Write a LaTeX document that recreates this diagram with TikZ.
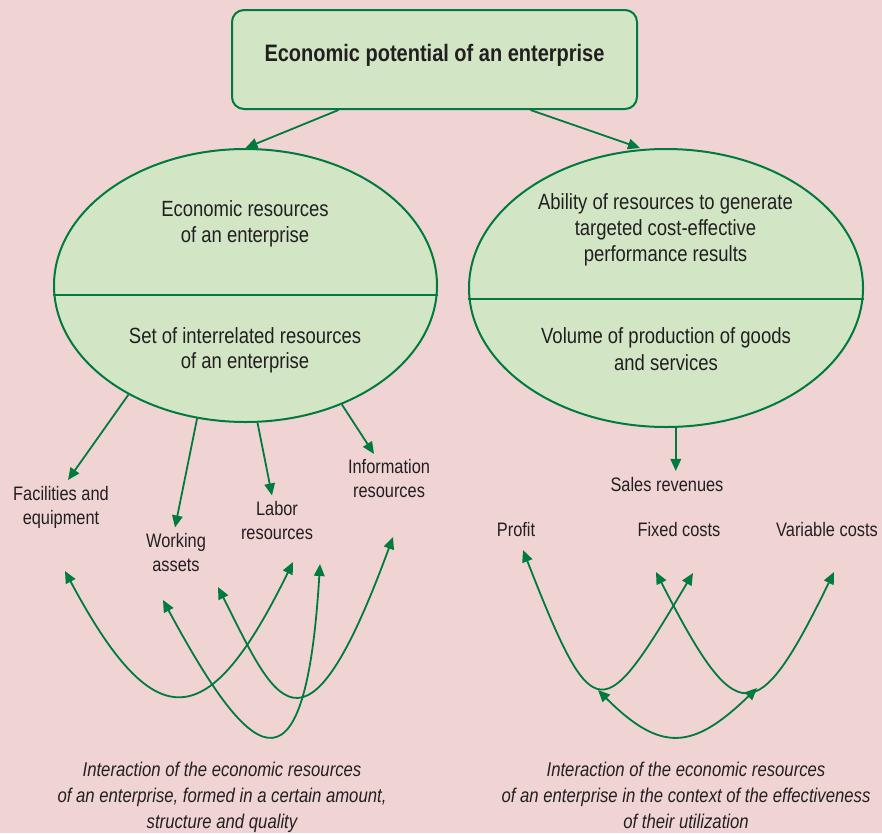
\documentclass[tikz,border=0pt]{standalone}
\usepackage{fontspec}
\setmainfont{Liberation Sans}[FakeStretch=0.84]
\usetikzlibrary{shapes,arrows.meta}
\definecolor{bgpink}{RGB}{240,212,212}
\definecolor{ovalgreen}{RGB}{210,230,197}
\definecolor{linegreen}{RGB}{0,122,61}
\definecolor{textgrey}{RGB}{35,31,32}

\begin{document}
\begin{tikzpicture}[x=1pt,y=-1pt,>={Triangle[length=12pt,width=10.5pt]},line width=1.8pt,draw=linegreen,text=textgrey]
    \tikzstyle{topbox}=[draw=linegreen,fill=ovalgreen,line width=2pt,rounded corners=12pt,minimum width=405pt,minimum height=99pt,font=\bfseries\fontsize{23.8}{28}\selectfont,text height=17pt,text depth=12.6pt]
    \tikzstyle{oval}=[ellipse,draw=linegreen,fill=ovalgreen,line width=2pt,inner sep=0pt]
    \tikzstyle{otext}=[align=center,font=\fontsize{22}{25.5}\selectfont,inner sep=0pt]
    \tikzstyle{leaf}=[align=center,font=\fontsize{19.5}{24}\selectfont,inner xsep=2pt,inner ysep=5pt]
    \tikzstyle{note}=[align=center,font=\itshape\fontsize{19.9}{26}\selectfont,inner sep=0pt]
    \fill[bgpink] (0,0) rectangle (882,833);
    \useasboundingbox (0,0) rectangle (882,833);
    % top box and the two ovals
    \node[topbox] (EP) at (434.5,59.5) {Economic potential of an enterprise};
    \node[oval,minimum width=383pt,minimum height=273pt] (EL) at (245.5,285.5) {};
    \node[oval,minimum width=394pt,minimum height=278pt] (ER) at (666,288) {};
    \draw[line width=2pt] ([yshift=-9.5pt]EL.west) -- ([yshift=-9.5pt]EL.east);
    \draw[line width=2pt] ([yshift=-11pt]ER.west) -- ([yshift=-11pt]ER.east);
    \node[otext] (EL1) at (245,224) {Economic resources\\of an enterprise};
    \node[otext] (EL2) at (245,350.5) {Set of interrelated resources\\of an enterprise};
    \node[otext,font=\fontsize{22}{26.2}\selectfont] (ER1) at (665.5,229.7) {Ability of resources to generate\\targeted cost-effective\\performance results};
    \node[otext,font=\fontsize{22}{26.7}\selectfont] (ER2) at (666,348.8) {Volume of production of goods\\and services};
    \draw[->] ([xshift=-96pt]EP.south) -- (EL.north);
    \draw[->] ([xshift=96pt]EP.south) -- ([xshift=-26pt]ER.north);
    % resources
    \node[leaf] (FE) at (61,507) {Facilities and\\equipment};
    \node[leaf] (WA) at (176,552.5) {Working\\assets};
    \node[leaf] (LR) at (277,520.5) {Labor\\resources};
    \node[leaf] (IR) at (389,479) {Information\\resources};
    \draw[->] (EL.223) -- ([xshift=7pt]FE.north);
    \draw[->] (EL.250) -- ([xshift=-1pt]WA.north);
    \draw[->] (EL.275) -- ([xshift=-5pt]LR.north);
    \draw[->] (EL.309) -- ([xshift=-15pt]IR.north);
    % results
    \node[leaf,anchor=base] (SR) at (667,491) {Sales revenues};
    \node[leaf,anchor=base] (PR) at (516,536) {Profit};
    \node[leaf,anchor=base] (FC) at (679,536) {Fixed costs};
    \node[leaf,anchor=base] (VC) at (827,536) {Variable costs};
    \draw[->] (ER.274) -- (ER.274 |- SR.north);
    % interaction loops
    \coordinate (A1) at (65,571);   \coordinate (A2) at (293,562);
    \coordinate (B1) at (163,600);  \coordinate (B2) at (320,564);
    \coordinate (C1) at (218,587);  \coordinate (C2) at (393,537);
    \coordinate (D1) at (523,550);  \coordinate (D2) at (693,573);
    \coordinate (E1) at (656,572);  \coordinate (E2) at (834,572);
    \coordinate (F1) at (598,690);  \coordinate (F2) at (757,688);
    \draw[<->] (A1) .. controls (155.2,740) and (208.5,734.8) .. (A2);
    \draw[<->] (B1) .. controls (246.3,754.3) and (304.8,817.8) .. (B2);
    \draw[<->] (C1) .. controls (274.2,698.1) and (303.6,780.6) .. (C2);
    \draw[<->] (D1) .. controls (594.7,733.3) and (602.6,724.3) .. (D2);
    \draw[<->] (E1) .. controls (736.7,729.5) and (756.5,731.1) .. (E2);
    \draw[<->] (F1) .. controls (661,753) and (693,750) .. (F2);
    % captions
    \node[note] (N1) at (222,797.5) {Interaction of the economic resources\\of an enterprise, formed in a certain amount,\\structure and quality};
    \node[note] (N2) at (686,795.5) {Interaction of the economic resources\\of an enterprise in the context of the effectiveness\\of their utilization};
\end{tikzpicture}
\end{document}
